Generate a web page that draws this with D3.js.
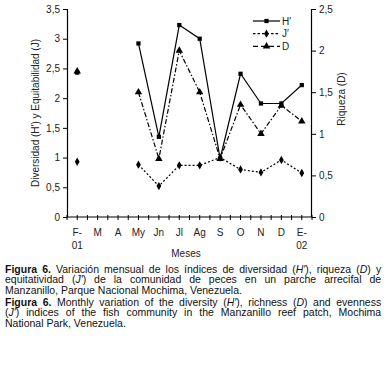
<!DOCTYPE html>
<html>
<head>
<meta charset="utf-8">
<script src="https://cdn.jsdelivr.net/npm/d3@7"></script>
<style>
body { margin: 0; background: #fff; overflow: hidden; }
#cap { position: absolute; left: 5px; top: 264px; width: 412px;
  transform: scaleX(0.913); transform-origin: 0 0;
  font-family: "Liberation Sans", Arial, sans-serif;
  font-size: 11.5px; line-height: 10.3px; color: #111; }
#cap div { text-align: justify; text-align-last: justify; white-space: nowrap; }
#cap div.last { text-align-last: left; }
#cap div.gap { margin-top: 2.3px; }
</style>
</head>
<body>
<div id="chart"></div>
<div id="cap"></div>
<script>
// monthly indices, Manzanillo reef patch
var months = ["F-01", "M", "A", "My", "Jn", "Jl", "Ag", "S", "O", "N", "D", "E-02"];
var hValues = [2.43, null, null, 2.92, 1.35, 3.23, 3.0, 0.98, 2.41, 1.91, 1.91, 2.22];
var jValues = [0.93, null, null, 0.88, 0.52, 0.87, 0.87, 1.0, 0.8, 0.75, 0.96, 0.74];
var dValues = [1.75, null, null, 1.5, 0.7, 2.0, 1.5, 0.7, 1.35, 1.0, 1.34, 1.15];
var leftTicks = [0, 0.5, 1, 1.5, 2, 2.5, 3, 3.5];
var rightTicks = [0, 0.5, 1, 1.5, 2, 2.5];

var width = 386,
	height = 260;

var svg = d3.select('#chart').append('svg')
	.attr('width', width)
	.attr('height', height)
	.style('font-family', 'Liberation Sans, Arial, sans-serif');

var x = d3.scaleBand().domain(months).range([67, 312]);
var yL = d3.scaleLinear().domain([0, 3.5]).range([217, 9]);
var yR = d3.scaleLinear().domain([0, 2.5]).range([217, 9]);

var fmt = function(d){ return String(d).replace('.', ','); };

// left axis
var axL = svg.append('g').attr('transform', 'translate(67,0)')
	.call(d3.axisLeft(yL).tickValues(leftTicks).tickSize(4).tickFormat(fmt));
// right axis
var axR = svg.append('g').attr('transform', 'translate(312,0)')
	.call(d3.axisRight(yR).tickValues(rightTicks).tickSize(4).tickFormat(fmt));
[axL, axR].forEach(function(a){
	a.select('.domain').attr('stroke', '#000').attr('stroke-width', 1.2);
	a.selectAll('.tick line').attr('stroke', '#000');
	a.selectAll('.tick text').attr('font-size', 10).attr('fill', '#222')
		.attr('font-family', 'Liberation Sans, Arial, sans-serif');
});
axL.select('.domain').attr('d', 'M0.5,217V9');
axR.select('.domain').attr('d', 'M-0.5,217V9');

// bottom axis
svg.append('line')
	.attr('x1', 67).attr('x2', 312).attr('y1', 217).attr('y2', 217)
	.attr('stroke', '#000').attr('stroke-width', 1.2);

var tickPos = [];
months.forEach(function(m){
	tickPos.push(x(m));
	tickPos.push(x(m) + x.bandwidth() / 2);
});
tickPos.push(312);
svg.selectAll('.xt').data(tickPos).enter().append('line')
	.attr('x1', function(d){ return d; }).attr('x2', function(d){ return d; })
	.attr('y1', 215).attr('y2', 220)
	.attr('stroke', '#000').attr('stroke-width', 1);

var mlab = svg.selectAll('.mlab').data(months).enter().append('text')
	.attr('x', function(d){ return x(d) + x.bandwidth() / 2; })
	.attr('y', 236)
	.attr('text-anchor', 'middle')
	.attr('font-size', 10)
	.attr('fill', '#222');
mlab.each(function(d){
	var t = d3.select(this);
	var parts = d.indexOf('-') > 0 ? [d.split('-')[0] + '-', d.split('-')[1]] : [d];
	parts.forEach(function(p, i){
		t.append('tspan').attr('x', x(d) + x.bandwidth() / 2).attr('dy', i ? 12.5 : 0).text(p);
	});
});

svg.append('text').attr('x', 186).attr('y', 257).attr('text-anchor', 'middle')
	.attr('font-size', 10).attr('fill', '#222').text('Meses');

svg.append('text').attr('transform', 'translate(39,113) rotate(-90)')
	.attr('text-anchor', 'middle').attr('font-size', 10).attr('fill', '#222')
	.text('Diversidad (H\u2032) y Equitabilidad (J)');
svg.append('text').attr('transform', 'translate(345,99) rotate(-90)')
	.attr('text-anchor', 'middle').attr('font-size', 10).attr('fill', '#222')
	.text('Riqueza (D)');

// series
var series = [
	{ name: 'H\u2032', values: hValues, y: yL, dash: null, shape: d3.symbolSquare, size: 18 },
	{ name: 'J\u2032', values: jValues, y: yL, dash: '2,2', shape: d3.symbolDiamond, size: 20 },
	{ name: 'D', values: dValues, y: yR, dash: '5,2,1.5,2', shape: d3.symbolTriangle, size: 24 }
];

series.slice().reverse().forEach(function(s){
	var pts = months.map(function(m, i){ return { m: m, v: s.values[i] }; });
	var line = d3.line()
		.defined(function(d){ return d.v != null; })
		.x(function(d){ return x(d.m) + x.bandwidth() / 2; })
		.y(function(d){ return s.y(d.v); });
	svg.append('path').datum(pts)
		.attr('d', line)
		.attr('fill', 'none')
		.attr('stroke', '#000')
		.attr('stroke-width', 1.2)
		.attr('stroke-dasharray', s.dash);
	svg.selectAll(null).data(pts.filter(function(d){ return d.v != null; }))
		.enter().append('path')
		.attr('d', d3.symbol().type(s.shape).size(s.size))
		.attr('transform', function(d){
			return 'translate(' + (x(d.m) + x.bandwidth() / 2) + ',' + s.y(d.v) + ')';
		})
		.attr('fill', '#000');
});

// legend
var leg = svg.selectAll('.leg').data(series).enter().append('g')
	.attr('transform', function(d, i){ return 'translate(253,' + (21 + i * 12.7) + ')'; });
leg.append('line').attr('x1', 0).attr('x2', 27).attr('y1', 0).attr('y2', 0)
	.attr('stroke', '#000').attr('stroke-width', 1.2)
	.attr('stroke-dasharray', function(d, i){ return i == 1 ? '2.5,2' : (i == 2 ? '5,3' : null); });
leg.append('path').attr('d', function(d){ return d3.symbol().type(d.shape).size(d.size)(); })
	.attr('transform', 'translate(13.5,0)').attr('fill', '#000');
leg.append('text').attr('x', 29).attr('y', 3.5).attr('font-size', 10).attr('fill', '#222')
	.text(function(d){ return d.name; });

// caption
var capLines = [
	['<b>Figura 6.</b> Variación mensual de los índices de diversidad (<i>H\u2032</i>), riqueza (<i>D</i>) y', ''],
	['equitatividad (<i>J\u2032</i>) de la comunidad de peces en un parche arrecifal de', ''],
	['Manzanillo, Parque Nacional Mochima, Venezuela.', 'last'],
	['<b>Figura 6.</b> Monthly variation of the diversity (<i>H\u2032</i>), richness (<i>D</i>) and evenness', 'gap'],
	['(<i>J\u2032</i>) indices of the fish community in the Manzanillo reef patch, Mochima', ''],
	['National Park, Venezuela.', 'last']
];
d3.select('#cap').selectAll('div').data(capLines).enter().append('div')
	.attr('class', function(d){ return d[1]; })
	.html(function(d){ return d[0]; });
</script>
</body>
</html>
